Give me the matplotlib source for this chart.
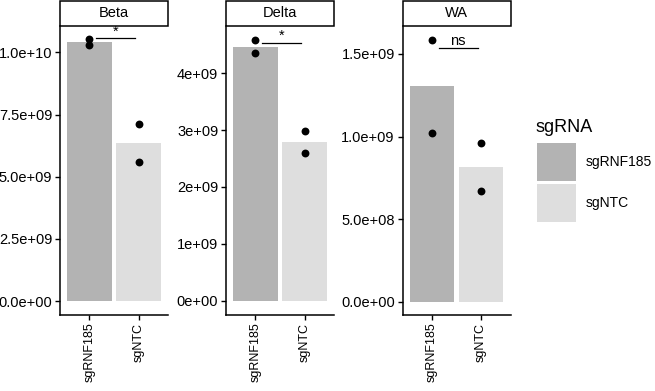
import matplotlib
matplotlib.use('Agg')
import matplotlib.pyplot as plt
from matplotlib.patches import Rectangle
import numpy as np

plt.rcParams['font.family'] = ['Liberation Sans', 'DejaVu Sans']

# data
panels = ['Beta', 'Delta', 'WA']
groups = ['sgRNF185', 'sgNTC']
reps = {
    'Beta':  [[1.052e10, 1.028e10], [7.13e9, 5.58e9]],
    'Delta': [[4.585e9, 4.345e9], [2.98e9, 2.60e9]],
    'WA':    [[1.586e9, 1.023e9], [0.959e9, 0.668e9]],
}
signif = {'Beta': '*', 'Delta': '*', 'WA': 'ns'}
bracket_y = {'Beta': 1.0563e10, 'Delta': 4.53e9, 'WA': 1.536e9}
ylims = {'Beta': (-0.056e10, 1.106e10), 'Delta': (-0.246e9, 4.825e9), 'WA': (-0.0805e9, 1.669e9)}
yticks = {
    'Beta': [0, 2.5e9, 5e9, 7.5e9, 1e10],
    'Delta': [0, 1e9, 2e9, 3e9, 4e9],
    'WA': [0, 5e8, 1e9, 1.5e9],
}
ytick_labels = {
    'Beta': ['0.0e+00', '2.5e+09', '5.0e+09', '7.5e+09', '1.0e+10'],
    'Delta': ['0e+00', '1e+09', '2e+09', '3e+09', '4e+09'],
    'WA': ['0.0e+00', '5.0e+08', '1.0e+09', '1.5e+09'],
}
colors = ['#B3B3B3', '#DEDEDE']

W, H = 655, 391
fig = plt.figure(figsize=(W / 100, H / 100), dpi=100)

lefts = [60, 226, 402.5]
ax_w, top, bot = 108, 26, 315
strip_h = 25

for name, lx in zip(panels, lefts):
    ax = fig.add_axes([lx / W, (H - bot) / H, ax_w / W, (bot - top) / H])
    x = np.arange(1, len(groups) + 1)
    means = [np.mean(r) for r in reps[name]]
    ax.bar(x, means, width=0.9, color=colors, edgecolor='none', zorder=1)
    for xi, r in zip(x, reps[name]):
        ax.scatter([xi] * len(r), r, s=32, color='black', zorder=3, linewidths=0)
    # significance bracket
    by = bracket_y[name]
    ax.plot([1.14, 1.93], [by, by], color='black', lw=0.9, zorder=3)
    ax.text(1.535, by, signif[name], ha='center', va='bottom', fontsize=10.5)

    ax.set_xlim(0.4, 2.6)
    ax.set_ylim(*ylims[name])
    ax.set_xticks(x)
    ax.set_xticklabels(groups, rotation=90, fontsize=9)
    ax.set_yticks(yticks[name])
    ax.set_yticklabels(ytick_labels[name], fontsize=10.5)
    for s in ['top', 'right']:
        ax.spines[s].set_visible(False)
    for s in ['left', 'bottom']:
        ax.spines[s].set_linewidth(1.1)
    ax.tick_params(length=3.5, width=1, color='black', pad=2, labelcolor='black')

    # facet strip
    ax.add_patch(Rectangle((0, 1), 1, strip_h / (bot - top), transform=ax.transAxes,
                           facecolor='white', edgecolor='black', lw=1.1, clip_on=False))
    ax.text(0.5, 1 + strip_h / (bot - top) / 2, name, transform=ax.transAxes,
            ha='center', va='center', fontsize=10.5)

# legend drawn by hand so the keys sit where the reference puts them
fig.text(536 / W, 1 - 127 / H, 'sgRNA', fontsize=13, ha='left', va='center')
key_tops = [143.3, 184.3]
for c, g, kt in zip(colors, groups, key_tops):
    fig.add_artist(Rectangle((537 / W, 1 - (kt + 38) / H), 39 / W, 38 / H,
                             transform=fig.transFigure, facecolor=c, edgecolor='none'))
    fig.text(586 / W, 1 - (kt + 19) / H, g, fontsize=10, ha='left', va='center')

fig.savefig('out.png', dpi=100)
